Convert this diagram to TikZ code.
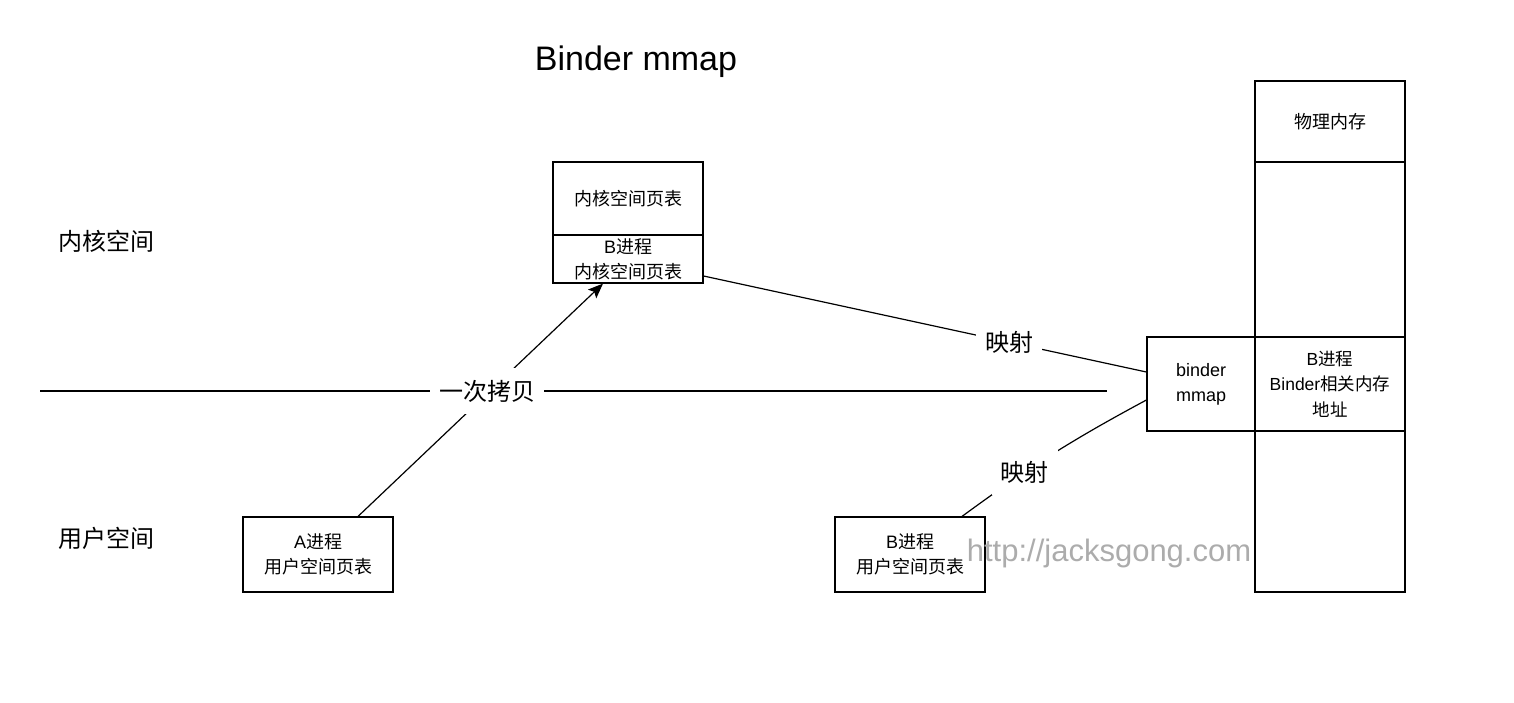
\documentclass[tikz,border=0pt]{standalone}
\usepackage{fontspec}
\setmainfont{Liberation Sans}
\newfontfamily\cjk{Noto Sans CJK SC}
\usetikzlibrary{arrows.meta}
\definecolor{wmgray}{RGB}{172,172,172}
\begin{document}
\begin{tikzpicture}[x=1pt,y=-1pt, line width=1.2pt,
  box/.style={draw, line width=1.2pt, minimum width=150pt, align=center, inner sep=0pt, font=\fontsize{18}{25}\selectfont},
  lbl/.style={fill=white, inner xsep=9pt, inner ysep=12pt, font=\cjk\fontsize{24}{28}\selectfont},
  side/.style={font=\cjk\fontsize{24}{28}\selectfont, anchor=west, inner sep=0pt}]
\useasboundingbox (0,0) rectangle (1514,702);

\node[font=\fontsize{34}{40}\selectfont] (title) at (636,62) {Binder mmap};
\node[side] (ks) at (58,241) {内核空间};
\node[side] (us) at (58,538) {用户空间};

\node[box, minimum height=73pt] (kt) at (628,198.5) {{\cjk 内核空间页表}};
\node[box, minimum height=48pt] (kb) at (628,259) {B{\cjk 进程}\\{\cjk 内核空间页表}};

\node[box, minimum height=75pt] (A) at (318,554.5) {A{\cjk 进程}\\{\cjk 用户空间页表}};
\node[box, minimum height=75pt] (Bu) at (910,554.5) {B{\cjk 进程}\\{\cjk 用户空间页表}};

\node[box, minimum height=81pt] (p1) at (1330,121.5) {{\cjk 物理内存}};
\node[box, minimum height=175pt] (p2) at (1330,249.5) {};
\node[box, minimum height=94pt, font=\fontsize{17.5}{25.5}\selectfont] (p3) at (1330,384) {B{\cjk 进程}\\Binder{\cjk 相关内存}\\{\cjk 地址}};
\node[box, minimum height=161pt] (p4) at (1330,511.5) {};
\node[box, minimum width=108pt, minimum height=94pt] (mm) at (1201,384) {binder\\mmap};

\node[font=\fontsize{31}{36}\selectfont, text=wmgray] (wm) at (1109,553) {http://jacksgong.com};

\coordinate (hl) at (40,391);
\coordinate (hr) at (1107,391);
\draw (hl) -- (hr);
\draw[-{Stealth[length=15pt,width=12pt,inset=3pt]}] ([xshift=40pt]A.north) -- ([xshift=-25pt]kb.south);
\node[lbl] (copy) at (487,391) {一次拷贝};
\draw ([yshift=-17pt]kb.east) -- node[lbl, pos=0.69] (m1) {映射} ([yshift=12pt]mm.west);
\draw ([xshift=52pt]Bu.north) to[bend left=4] node[lbl, pos=0.34] (m2) {映射} ([yshift=-16pt]mm.west);
\end{tikzpicture}
\end{document}
